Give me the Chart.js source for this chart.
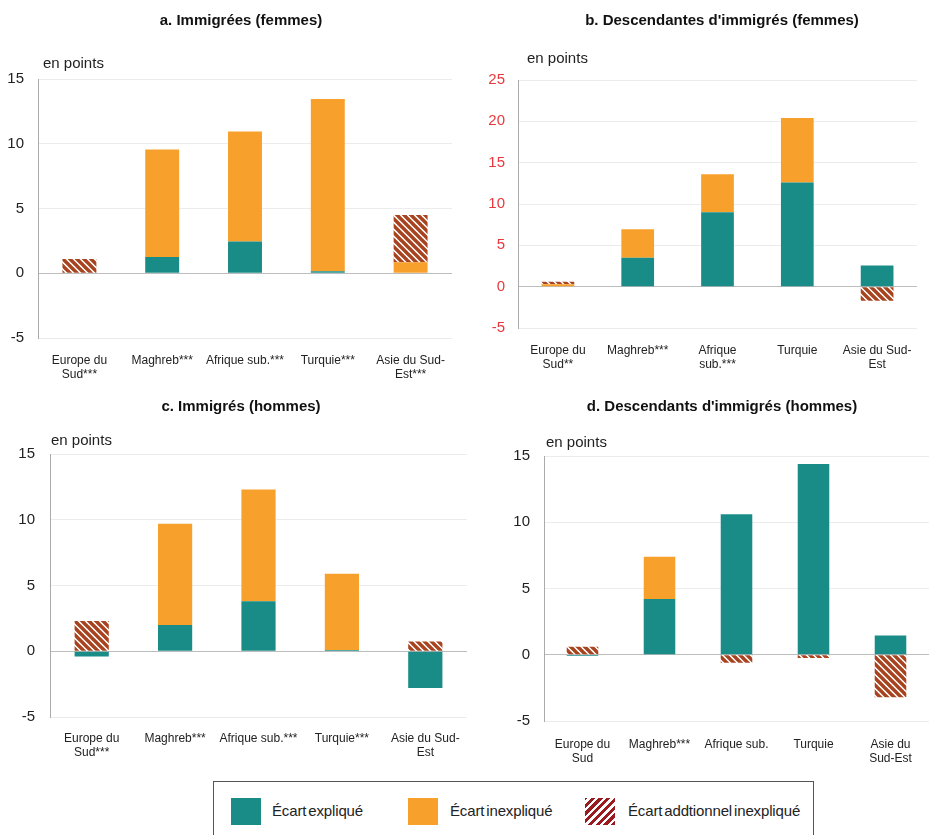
<!DOCTYPE html>
<html>
<head>
<meta charset="utf-8">
<script src="https://cdn.jsdelivr.net/npm/chart.js@4"></script>
<style>
  body { margin: 0; background: #fff; font-family: "Liberation Sans", Arial, sans-serif; }
  .box { position: absolute; }
  #legend {
    position: absolute; left: 213px; top: 781px; width: 601px; height: 70px;
    border: 1px solid #555; box-sizing: border-box;
  }
  .sw { position: absolute; top: 16px; width: 30px; height: 27px; }
  .lt { position: absolute; top: 20px; font-size: 15px; color: #222; letter-spacing: -0.15px; word-spacing: -2px; }
</style>
</head>
<body>
<div class="box" style="left:0;top:0"><canvas id="chA" width="465" height="385"></canvas></div>
<div class="box" style="left:465px;top:0"><canvas id="chB" width="464" height="385"></canvas></div>
<div class="box" style="left:0;top:385px"><canvas id="chC" width="470" height="385"></canvas></div>
<div class="box" style="left:470px;top:385px"><canvas id="chD" width="459" height="385"></canvas></div>

<div id="legend">
  <div class="sw" style="left:17px;background:#1a8c88"></div>
  <div class="lt" style="left:58px">Écart expliqué</div>
  <div class="sw" style="left:194px;background:#f7a12c"></div>
  <div class="lt" style="left:236px">Écart inexpliqué</div>
  <div class="sw" style="left:371px;background:repeating-linear-gradient(-45deg,#9a1c20 0 3px,#fff 3px 5.5px)"></div>
  <div class="lt" style="left:414px">Écart addtionnel inexpliqué</div>
</div>

<script>
// categories
const labelsA = [["Europe du", "Sud***"], "Maghreb***", "Afrique sub.***", "Turquie***", ["Asie du Sud-", "Est***"]];
const labelsB = [["Europe du", "Sud**"], "Maghreb***", ["Afrique", "sub.***"], "Turquie", ["Asie du Sud-", "Est"]];
const labelsC = [["Europe du", "Sud***"], "Maghreb***", "Afrique sub.***", "Turquie***", ["Asie du Sud-", "Est"]];
const labelsD = [["Europe du", "Sud"], "Maghreb***", "Afrique sub.", "Turquie", ["Asie du", "Sud-Est"]];

// a. Immigrées (femmes)
const explA = [0, 1.25, 2.45, 0.15, 0];
const unexA = [0, 8.3, 8.5, 13.3, 0.85];
const addA = [1.1, 0, 0, 0, 3.65];

// b. Descendantes d'immigrés (femmes)
const explB = [0, 3.5, 9.0, 12.6, 2.55];
const unexB = [0.3, 3.45, 4.6, 7.8, 0];
const addB = [0.3, 0, 0, 0, -1.7];

// c. Immigrés (hommes)
const explC = [-0.4, 2.0, 3.8, 0.1, -2.8];
const unexC = [0, 7.7, 8.5, 5.8, 0];
const addC = [2.3, 0, 0, 0, 0.75];

// d. Descendants d'immigrés (hommes)
const explD = [-0.1, 4.2, 10.6, 14.4, 1.45];
const unexD = [0, 3.2, 0, 0, 0];
const addD = [0.6, 0, -0.6, -0.25, -3.2];

const yMaxA = 15, yMaxB = 25, yMaxC = 15, yMaxD = 15;

const FONT = '"Liberation Sans", Arial, sans-serif';
const TEAL = "#1a8c88", ORANGE = "#f7a12c";

function makeHatch() {
  const p = 7;
  const c = document.createElement("canvas");
  c.width = p; c.height = p;
  const g = c.getContext("2d");
  g.fillStyle = "#fff";
  g.fillRect(0, 0, p, p);
  g.strokeStyle = "#a8431f";
  g.lineWidth = 3.4;
  for (let k = -1; k <= 1; k++) {
    g.beginPath();
    g.moveTo(k * p - 1, -1);
    g.lineTo(k * p + p + 1, p + 1);
    g.stroke();
  }
  return g.createPattern(c, "repeat");
}
const hatch = makeHatch();

// draws the panel title and the "en points" note
const deco = {
  id: "deco",
  afterDraw(chart, args, o) {
    const g = chart.ctx;
    g.save();
    g.fillStyle = "#111";
    g.font = "bold 15px " + FONT;
    g.textAlign = "center";
    g.textBaseline = "middle";
    g.fillText(o.title, o.tx, o.ty);
    g.fillStyle = "#222";
    g.font = "15px " + FONT;
    g.textAlign = "left";
    g.fillText("en points", o.ux, o.uy);
    g.restore();
  }
};

function panel(id, labels, expl, unex, add, yMax, lay) {
  new Chart(document.getElementById(id), {
    type: "bar",
    data: {
      labels: labels,
      datasets: [
        { label: "Écart expliqué", data: expl, backgroundColor: TEAL },
        { label: "Écart inexpliqué", data: unex, backgroundColor: ORANGE },
        { label: "Écart addtionnel inexpliqué", data: add, backgroundColor: hatch }
      ]
    },
    options: {
      responsive: false,
      animation: false,
      layout: { padding: { left: 0, top: lay.top, right: lay.right, bottom: 0 } },
      datasets: { bar: { barPercentage: 0.41, categoryPercentage: 1 } },
      plugins: {
        legend: { display: false },
        tooltip: { enabled: false },
        deco: lay.deco
      },
      scales: {
        x: {
          stacked: true,
          grid: { display: false },
          border: { display: false },
          ticks: {
            color: "#222", padding: lay.xpad, maxRotation: 0, autoSkip: false,
            font: { family: FONT, size: 12, lineHeight: 1.17 }
          },
          afterFit: s => { s.height = lay.xh; }
        },
        y: {
          stacked: true,
          min: -5, max: yMax,
          grid: {
            drawTicks: false,
            color: c => (c.tick && c.tick.value === 0) ? "#bdbdbd" : "#ececec"
          },
          border: { color: "#aaa" },
          ticks: {
            stepSize: 5, padding: lay.ypad, color: lay.tickColor || "#222",
            font: { family: FONT, size: 15 }
          },
          afterFit: s => { s.width = lay.yw; }
        }
      }
    },
    plugins: [deco]
  });
}

panel("chA", labelsA, explA, unexA, addA, yMaxA, {
  top: 79, right: 13, yw: 38, xh: 47, xpad: 8, ypad: 14,
  deco: { title: "a. Immigrées (femmes)", tx: 241, ty: 21, ux: 43, uy: 64 }
});
panel("chB", labelsB, explB, unexB, addB, yMaxB, {
  top: 80, right: 12, yw: 53, xh: 57, xpad: 8, ypad: 13, tickColor: "#e8383d",
  deco: { title: "b. Descendantes d'immigrés (femmes)", tx: 257, ty: 21, ux: 62, uy: 59 }
});
panel("chC", labelsC, explC, unexC, addC, yMaxC, {
  top: 69, right: 3, yw: 50, xh: 53, xpad: 7, ypad: 15,
  deco: { title: "c. Immigrés (hommes)", tx: 241, ty: 22, ux: 51, uy: 56 }
});
panel("chD", labelsD, explD, unexD, addD, yMaxD, {
  top: 71, right: 0, yw: 74, xh: 49, xpad: 9, ypad: 14,
  deco: { title: "d. Descendants d'immigrés (hommes)", tx: 252, ty: 22, ux: 76, uy: 58 }
});
</script>
</body>
</html>
